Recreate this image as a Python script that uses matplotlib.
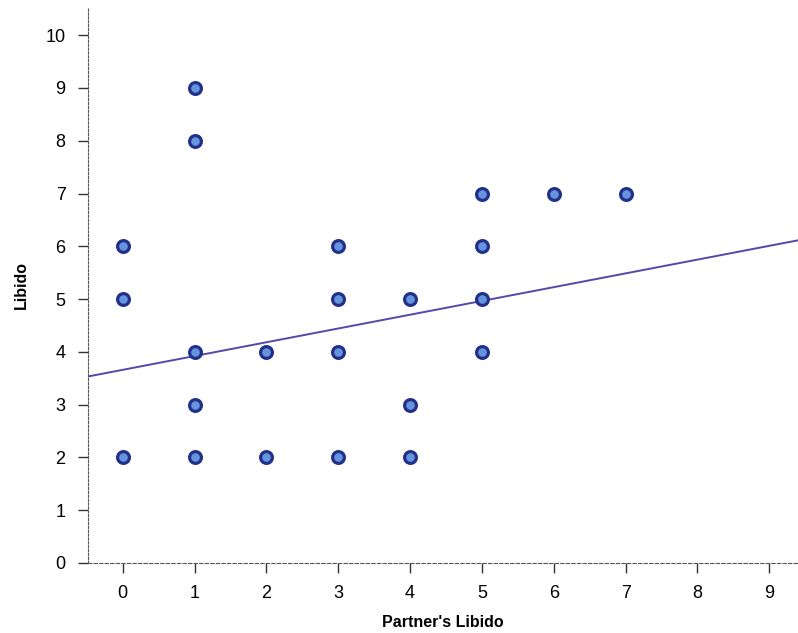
import matplotlib.pyplot as plt
import numpy as np

plt.rcParams['font.family'] = ['Liberation Sans', 'DejaVu Sans']

# data
partner_libido = [0, 0, 0, 1, 1, 1, 1, 1, 2, 2, 3, 3, 3, 3, 4, 4, 4, 5, 5, 5, 5, 6, 7]
libido = [6, 5, 2, 9, 8, 4, 3, 2, 4, 2, 6, 5, 4, 2, 5, 3, 2, 7, 6, 5, 4, 7, 7]
fit_intercept = 3.66
fit_slope = 0.261
x_ticks = list(range(0, 10))
y_ticks = list(range(0, 11))

fig = plt.figure(figsize=(7.98, 6.33), dpi=100)
ax = fig.add_axes([0.110, 0.1106, 0.890, 0.878])

xlim = (-0.487, 9.40)
ax.set_xlim(xlim)
ax.set_ylim(0, 10.53)

xs = np.array(xlim)
ax.plot(xs, fit_intercept + fit_slope * xs, color='#5548a8', lw=1.4, zorder=2)

ax.scatter(partner_libido, libido, s=72, facecolor='#6494dc', edgecolor='#22308a',
           linewidth=2.3, zorder=3, clip_on=False)

for side in ['top', 'right']:
    ax.spines[side].set_visible(False)
ax.spines['left'].set_linestyle((0, (2, 1.5)))
ax.spines['bottom'].set_linestyle((0, (3, 2)))
ax.spines['left'].set_color('#555555')
ax.spines['bottom'].set_color('#555555')

ax.set_xticks(x_ticks)
ax.set_yticks(y_ticks)
ax.tick_params(axis='both', labelsize=13, length=7, width=1, color='#333333', pad=9)

ax.set_xlabel("Partner's Libido", fontsize=11.5, fontweight='bold', labelpad=9)
ax.set_ylabel('Libido', fontsize=11.5, fontweight='bold', labelpad=12)

fig.savefig('out.png', dpi=100)
